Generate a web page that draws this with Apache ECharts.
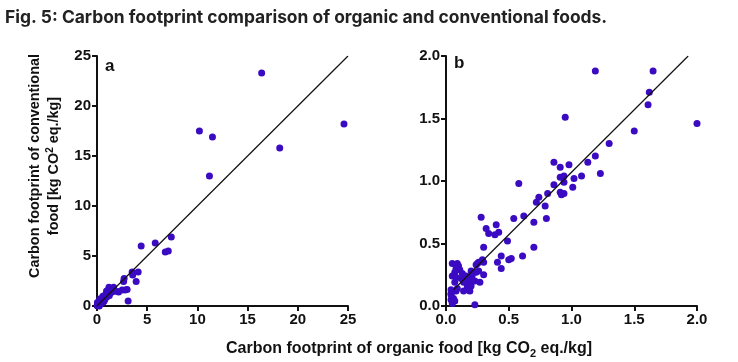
<!DOCTYPE html>
<html><head><meta charset="utf-8">
<script src="https://cdn.jsdelivr.net/npm/echarts@6/dist/echarts.min.js"></script>
<style>html,body{margin:0;padding:0;background:#fff}#c{width:738px;height:362px}</style>
</head><body><div id="c"></div>
<script>
// Panel a: points beyond the 0–2 range (organic, conventional)
const organicA = [16.4,10.2,11.5,11.2,18.2,24.6,4.4,5.8,7.4,6.8,7.1,4.1,3.5,3.55,3.9,3.1,2.7,2.65,3.0,2.8,2.5,2.15];
const conventionalA = [23.3,17.5,16.9,13.0,15.8,18.2,6.0,6.3,6.9,5.4,5.5,3.4,3.4,3.1,2.45,0.5,2.75,2.45,1.65,1.6,1.6,1.4];
// Panel b: points within 0–2 (also shown in panel a)
const organicB = [1.19,1.65,1.62,1.61,0.95,2.0,1.50,1.30,1.19,1.13,1.23,1.08,1.02,1.01,0.98,0.86,0.91,0.91,0.94,0.94,0.86,0.91,0.92,0.94,0.81,0.74,0.72,0.79,0.80,0.70,0.62,0.58,0.54,0.70,0.61,0.52,0.50,0.49,0.44,0.44,0.41,0.42,0.40,0.39,0.34,0.32,0.28,0.30,0.30,0.29,0.30,
0.25,0.26,0.24,0.26,0.27,0.23,0.24,0.05,0.09,0.10,0.07,0.05,0.11,0.13,0.12,0.15,0.18,0.16,0.18,0.20,0.21,0.17,0.17,0.14,0.19,0.20,0.19,0.21,0.23,0.08,0.09,0.04,0.04,0.06,0.04,0.07,0.05,0.04,0.07,0.08,0.14,0.08];
const conventionalB = [1.88,1.88,1.71,1.61,1.51,1.46,1.40,1.30,1.20,1.15,1.06,1.04,1.02,0.95,1.13,1.15,1.11,1.03,1.04,0.99,0.97,0.91,0.89,0.90,0.90,0.87,0.83,0.80,0.70,0.67,0.72,0.98,0.70,0.47,0.40,0.38,0.37,0.52,0.40,0.30,0.35,0.59,0.65,0.57,0.58,0.62,0.71,0.47,0.35,0.37,0.25,
0.34,0.35,0.33,0.28,0.19,0.01,0.27,0.34,0.34,0.32,0.27,0.24,0.29,0.26,0.22,0.21,0.19,0.24,0.23,0.28,0.25,0.16,0.13,0.12,0.12,0.16,0.18,0.21,0.20,0.12,0.14,0.13,0.10,0.06,0.05,0.04,0.02,0.09,0.19,0.23,0.19,0.30];
// Reference lines
const lineA = [[0,0],[25,25]];
const lineB = [[0.06,0.13],[1.93,2.0]];
const ticksA = [0,5,10,15,20,25];
const ticksB = [0,0.5,1.0,1.5,2.0];

const pairs = (xs, ys) => xs.map((x,i)=>[x, ys[i]]);
const dataB = pairs(organicB, conventionalB);
const dataA = pairs(organicA, conventionalA).concat(dataB);

const DOT = '#3a0bc2';
const FONT = '"Liberation Sans", Arial, sans-serif';
const lbl = {color:'#111', fontFamily:FONT, fontWeight:'bold', fontSize:15, margin:6};
function axis(grid, max, interval, fmt){
  return {type:'value', gridIndex:grid, min:0, max:max, interval:interval, splitLine:{show:false},
    axisLine:{show:true, onZero:false, lineStyle:{color:'#111', width:2}},
    axisTick:{show:true, length:5, lineStyle:{color:'#111', width:2}},
    axisLabel:Object.assign({formatter:fmt}, lbl)};
}
const chart = echarts.init(document.getElementById('c'), null, {renderer:'canvas'});
chart.setOption({
  animation:false,
  backgroundColor:'#fff',
  grid:[{left:97, top:56, width:251, height:250},{left:446, top:56, width:251, height:250}],
  xAxis:[axis(0,25,5,v=>String(v)), axis(1,2,0.5,v=>v.toFixed(1))],
  yAxis:[axis(0,25,5,v=>String(v)), axis(1,2,0.5,v=>v.toFixed(1))],
  series:[
    {type:'line', xAxisIndex:0, yAxisIndex:0, data:lineA, symbol:'none', lineStyle:{color:'#111', width:1.2}, silent:true},
    {type:'line', xAxisIndex:1, yAxisIndex:1, data:lineB, symbol:'none', lineStyle:{color:'#111', width:1.2}, silent:true},
    {type:'scatter', xAxisIndex:0, yAxisIndex:0, data:dataA, symbolSize:7, itemStyle:{color:DOT, opacity:1}},
    {type:'scatter', xAxisIndex:1, yAxisIndex:1, data:dataB, symbolSize:7, itemStyle:{color:DOT, opacity:1}}
  ],
  graphic:[
    {type:'text', left:5, top:9, style:{text:'Fig. 5: Carbon footprint comparison of organic and conventional foods.', font:'bold 17.4px Inter, sans-serif', fill:'#222'}},
    {type:'text', left:105, top:58, style:{text:'a', font:'bold 17px "Liberation Sans", Arial, sans-serif', fill:'#111'}},
    {type:'text', left:454, top:55, style:{text:'b', font:'bold 17px "Liberation Sans", Arial, sans-serif', fill:'#111'}},
    {type:'text', x:409, y:347, style:{
      text:'{n|Carbon footprint of organic food [kg CO}{s|2}{n| eq./kg]}', align:'center', verticalAlign:'middle',
      rich:{n:{font:'bold 16px "Liberation Sans", Arial, sans-serif', fill:'#111', lineHeight:19, verticalAlign:'bottom'},
            s:{font:'bold 11px "Liberation Sans", Arial, sans-serif', fill:'#111', lineHeight:19, verticalAlign:'bottom', padding:[0,0,-3,0]}}}},
    {type:'text', x:45, y:166, rotation:Math.PI/2, style:{
      text:'{n|Carbon footprint of conventional}\n{n|food [kg CO}{p|2}{n| eq./kg]}', align:'center', verticalAlign:'middle',
      rich:{n:{font:'bold 14.4px "Liberation Sans", Arial, sans-serif', fill:'#111', lineHeight:19, verticalAlign:'middle', align:'center'},
            p:{font:'bold 10px "Liberation Sans", Arial, sans-serif', fill:'#111', lineHeight:19, verticalAlign:'top', padding:[0,0,0,0]}}}}
  ]
});
</script></body></html>
